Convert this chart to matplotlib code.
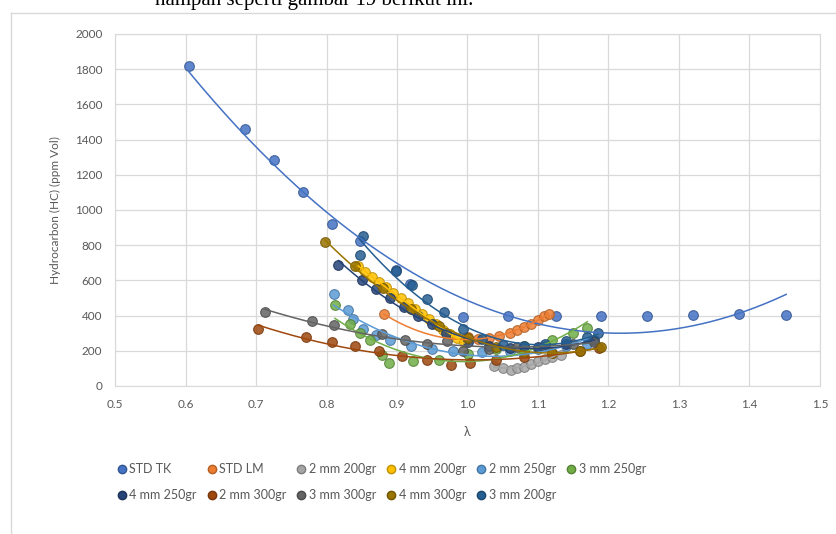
import numpy as np
import matplotlib
matplotlib.use("Agg")
import matplotlib.pyplot as plt
import matplotlib.colors as mcolors
from matplotlib.lines import Line2D

plt.rcParams['font.family'] = ['Lato', 'DejaVu Sans']

# lambda values and HC (ppm Vol) per series
names = ["STD TK", "STD LM", "2 mm 200gr", "4 mm 200gr", "2 mm 250gr", "3 mm 250gr",
         "4 mm 250gr", "2 mm 300gr", "3 mm 300gr", "4 mm 300gr", "3 mm 200gr"]
colors = ["#4472C4", "#ED7D31", "#A5A5A5", "#FFC000", "#5B9BD5", "#70AD47",
          "#264478", "#9E480E", "#636363", "#997300", "#255E91"]

std_tk_x = [0.605, 0.685, 0.726, 0.766, 0.808, 0.848, 0.898, 0.919, 0.993, 1.057, 1.125, 1.19, 1.255, 1.32, 1.385, 1.452]
std_tk_y = [1820, 1460, 1285, 1100, 920, 822, 661, 580, 391, 395, 395, 398, 396, 402, 408, 402]

std_lm_x = [0.881, 1.0, 1.015, 1.03, 1.045, 1.06, 1.07, 1.08, 1.09, 1.1, 1.108, 1.115]
std_lm_y = [408, 276, 265, 270, 285, 300, 318, 335, 355, 375, 395, 410]

mm2_200_x = [1.037, 1.05, 1.061, 1.07, 1.08, 1.09, 1.1, 1.11, 1.12, 1.132]
mm2_200_y = [115, 100, 92, 100, 110, 125, 140, 155, 165, 178]

mm4_200_x = [0.845, 0.855, 0.865, 0.875, 0.885, 0.895, 0.905, 0.915, 0.925, 0.935, 0.945, 0.955, 0.965, 0.975, 0.985, 0.995]
mm4_200_y = [680, 650, 620, 590, 560, 530, 500, 470, 440, 410, 380, 350, 320, 295, 270, 250]

mm2_250_x = [0.81, 0.83, 0.838, 0.852, 0.87, 0.89, 0.92, 0.95, 0.98, 1.02, 1.06, 1.1, 1.14, 1.17]
mm2_250_y = [523, 431, 380, 322, 290, 260, 230, 210, 200, 195, 200, 210, 225, 240]

mm3_250_x = [0.812, 0.834, 0.848, 0.862, 0.879, 0.888, 0.923, 0.96, 1.0, 1.04, 1.08, 1.12, 1.15, 1.17]
mm3_250_y = [460, 350, 300, 259, 178, 132, 144, 150, 180, 210, 230, 260, 300, 330]

mm4_250_x = [0.817, 0.85, 0.87, 0.89, 0.91, 0.93, 0.95, 0.97, 1.0, 1.03, 1.06, 1.1, 1.14, 1.18]
mm4_250_y = [690, 600, 550, 500, 450, 400, 350, 300, 250, 225, 215, 220, 240, 260]

mm2_300_x = [0.703, 0.771, 0.808, 0.841, 0.874, 0.907, 0.943, 0.976, 1.004, 1.04, 1.08, 1.12, 1.16, 1.186]
mm2_300_y = [322, 276, 250, 228, 201, 172, 149, 121, 132, 145, 165, 185, 200, 218]

mm3_300_x = [0.713, 0.78, 0.81, 0.879, 0.912, 0.943, 0.971, 0.993, 1.03, 1.07, 1.11, 1.15, 1.18]
mm3_300_y = [420, 368, 345, 293, 264, 236, 253, 201, 210, 220, 230, 240, 250]

mm4_300_x = [0.798, 0.84, 0.88, 0.92, 0.96, 1.0, 1.04, 1.08, 1.12, 1.16, 1.19]
mm4_300_y = [816, 680, 555, 440, 340, 270, 220, 195, 190, 200, 220]

mm3_200_x = [0.847, 0.852, 0.898, 0.921, 0.943, 0.966, 0.994, 1.02, 1.05, 1.08, 1.11, 1.14, 1.17, 1.185]
mm3_200_y = [747, 850, 655, 575, 494, 420, 322, 265, 235, 230, 240, 255, 280, 300]

xs = [std_tk_x, std_lm_x, mm2_200_x, mm4_200_x, mm2_250_x, mm3_250_x,
      mm4_250_x, mm2_300_x, mm3_300_x, mm4_300_x, mm3_200_x]
ys = [std_tk_y, std_lm_y, mm2_200_y, mm4_200_y, mm2_250_y, mm3_250_y,
      mm4_250_y, mm2_300_y, mm3_300_y, mm4_300_y, mm3_200_y]


def darker(c, f=0.75):
    r, g, b = mcolors.to_rgb(c)
    return (r * f, g * f, b * f)


fig = plt.figure(figsize=(8.36, 5.34), dpi=100)
ax = fig.add_axes([115/836, 1-386/534, (820-115)/836, (386-34)/534])

for x, y, c, n in zip(xs, ys, colors, names):
    ax.plot(x, y, 'o', ms=7, mfc=c, mec=darker(c), mew=0.8, alpha=0.85, zorder=3)
    # excel-style polynomial trendline
    p = np.polyfit(x, y, 2)
    xx = np.linspace(min(x), max(x), 200)
    ax.plot(xx, np.polyval(p, xx), color=c, lw=1.1, zorder=4)

ax.set_xlim(0.5, 1.5)
ax.set_ylim(0, 2000)
ax.set_xticks(np.arange(0.5, 1.51, 0.1))
ax.set_xticklabels([f"{v:.1f}" for v in np.arange(0.5, 1.51, 0.1)])
ax.set_yticks(np.arange(0, 2001, 200))
ax.grid(color="#D9D9D9", lw=0.9)
ax.set_axisbelow(True)
for s in ax.spines.values():
    s.set_color("#D9D9D9")
ax.tick_params(length=0, labelsize=8.5, labelcolor="#595959", pad=9)
ax.set_xlabel("λ", fontsize=9, color="#595959", labelpad=12)
ax.set_ylabel("Hydrocarbon (HC) (ppm Vol)", fontsize=8.5, color="#595959", labelpad=10)

# legend laid out row by row (matplotlib fills columns first)
order = [0, 6, 1, 7, 2, 8, 3, 9, 4, 10, 5]
handles = [Line2D([], [], marker='o', ls='', ms=6, mfc=colors[i], mec=darker(colors[i]))
           for i in order]
leg = fig.legend(handles, [names[i] for i in order], ncol=6, loc='upper left',
                 bbox_to_anchor=(104/836, 1-452/534), frameon=False, fontsize=9,
                 handletextpad=0.1, columnspacing=0.7, handlelength=1.0, labelspacing=1.1)
for t in leg.get_texts():
    t.set_color("#595959")

# chart frame and clipped document text above it
fig.add_artist(Line2D([11/836, 11/836], [0, 1-13/534], color="#D9D9D9", lw=1))
fig.add_artist(Line2D([11/836, 1], [1-13/534, 1-13/534], color="#D9D9D9", lw=1))
fig.text(0.185, 1.0, "nampan seperti gambar 19 berikut ini.", family="Liberation Serif",
         fontsize=15, va='center', ha='left')

fig.savefig("out.png", dpi=100)
